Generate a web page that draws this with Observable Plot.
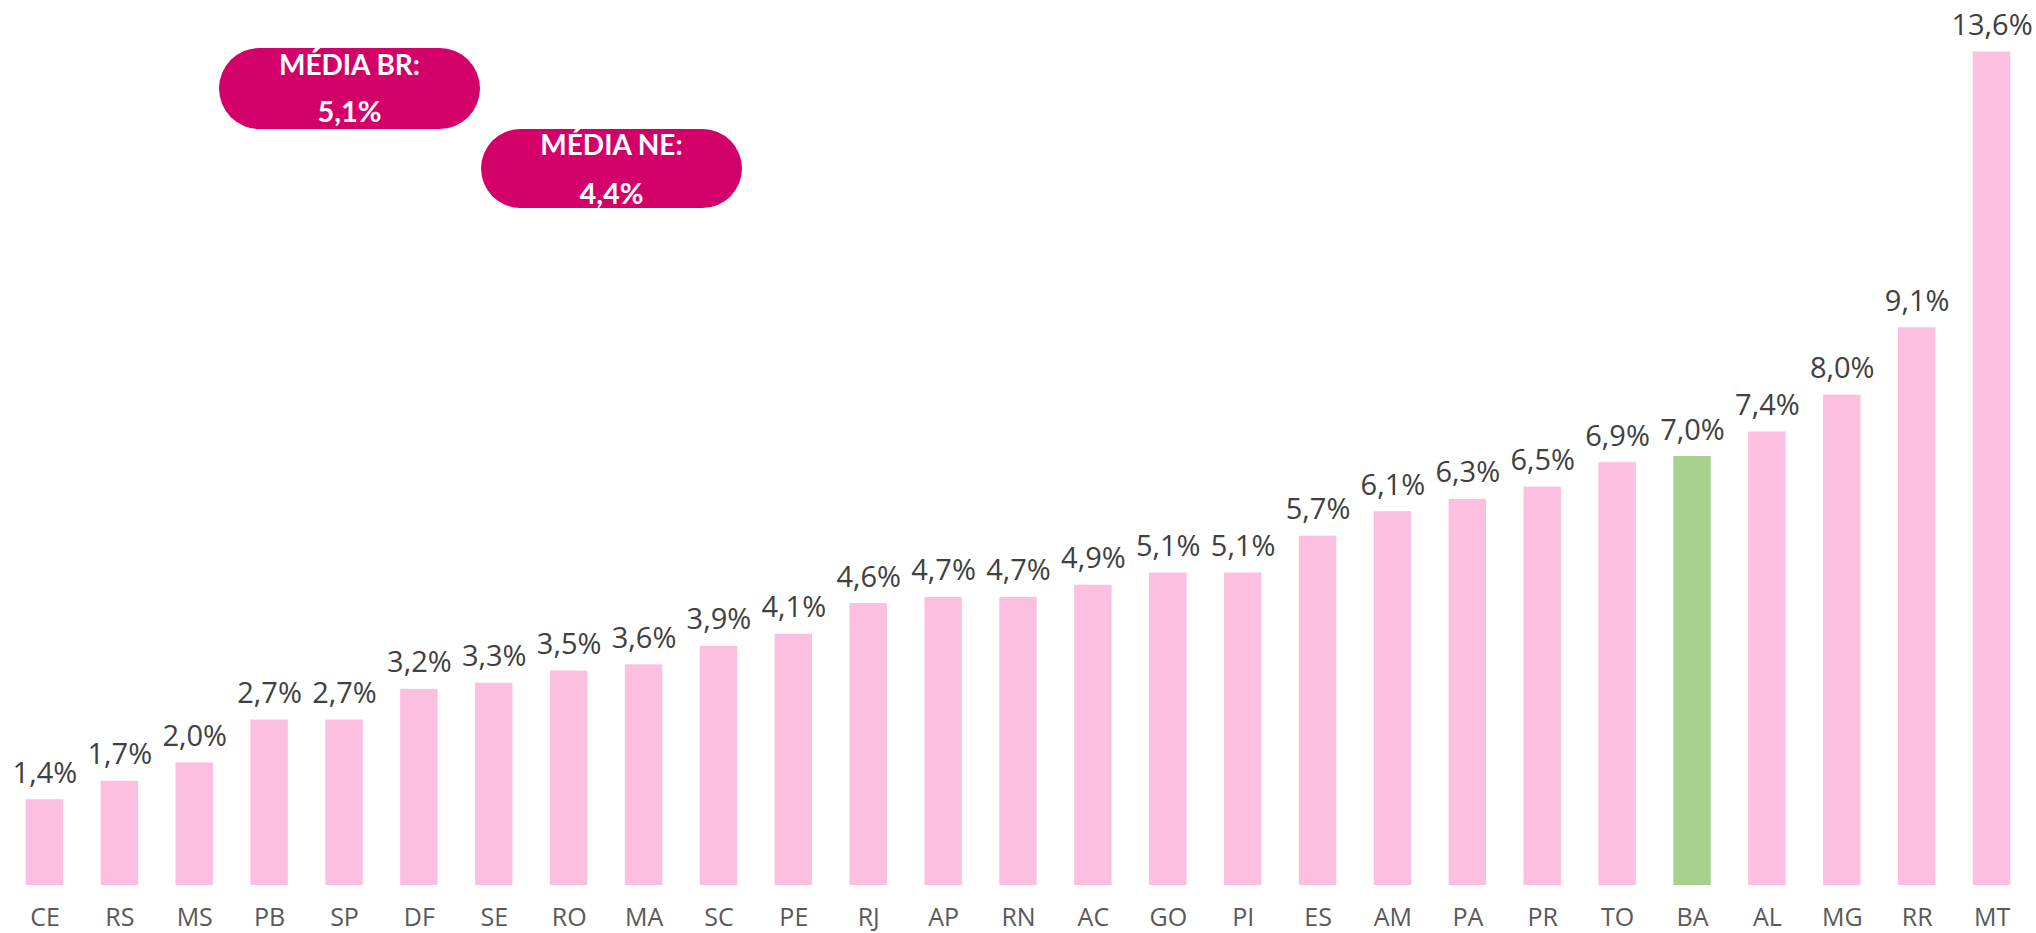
<!DOCTYPE html>
<html>
<head>
<meta charset="utf-8">
<script src="https://cdn.jsdelivr.net/npm/d3@7"></script>
<script src="https://cdn.jsdelivr.net/npm/@observablehq/plot@0.6"></script>
<style>
  html, body { margin: 0; padding: 0; background: #fff; }
  #wrap { position: relative; width: 2036px; height: 933px; font-family: "Open Sans", Lato, sans-serif; }
  .badge { position: absolute; background: #D4006A; color: #fff; font-weight: 700; text-align: center; font-family: Lato, "Open Sans", sans-serif; }
  .badge .l1, .badge .l2 { position: absolute; left: 0; right: 0; line-height: 1; white-space: nowrap; }
  .badge .l1 { font-size: 28px; }
  .badge .l2 { font-size: 29px; }
</style>
</head>
<body>
<div id="wrap"></div>
<script>
const states = ["CE","RS","MS","PB","SP","DF","SE","RO","MA","SC","PE","RJ","AP","RN","AC","GO","PI","ES","AM","PA","PR","TO","BA","AL","MG","RR","MT"];
const values = [1.4,1.7,2.0,2.7,2.7,3.2,3.3,3.5,3.6,3.9,4.1,4.6,4.7,4.7,4.9,5.1,5.1,5.7,6.1,6.3,6.5,6.9,7.0,7.4,8.0,9.1,13.6];
const highlight = "BA";
const avgLabels = ["MÉDIA BR:", "MÉDIA NE:"];
const avgValues = [5.1, 4.4];

const pink = "#FDBFDF";
const green = "#A9D18E";
const fmt = v => v.toFixed(1).replace(".", ",") + "%";

const data = states.map((s, i) => ({state: s, value: values[i]}));

const chart = Plot.plot({
  width: 2036,
  height: 933,
  marginLeft: 7,
  marginRight: 7,
  marginTop: 27,
  marginBottom: 48,
  style: {fontFamily: "'Open Sans', Lato, sans-serif", background: "#fff"},
  x: {domain: states, paddingInner: 0.5, paddingOuter: 0.25, round: false, axis: null},
  y: {domain: [0, 14], axis: null},
  marks: [
    Plot.barY(data, {x: "state", y: "value", fill: d => d.state === highlight ? green : pink}),
    Plot.text(data, {x: "state", y: "value", text: d => fmt(d.value), dy: -17, lineAnchor: "bottom", fontSize: 29, fill: "#404040"}),
    Plot.axisX({tickSize: 0, tickPadding: 23, fontSize: 25, color: "#595959", label: null})
  ]
});

const wrap = document.getElementById("wrap");
wrap.appendChild(chart);

// average badges (layout positions in pixels)
const badgeBoxes = [
  {left: 219, top: 48, width: 261, height: 81, t1: 2.2, t2: 48.3},
  {left: 481, top: 129, width: 261, height: 79, t1: 1.2, t2: 49.3}
];
avgLabels.forEach((lab, i) => {
  const b = badgeBoxes[i];
  const div = document.createElement("div");
  div.className = "badge";
  Object.assign(div.style, {left: b.left + "px", top: b.top + "px", width: b.width + "px", height: b.height + "px", borderRadius: (b.height / 2) + "px"});
  const l1 = document.createElement("div");
  l1.className = "l1"; l1.style.top = b.t1 + "px"; l1.textContent = lab;
  const l2 = document.createElement("div");
  l2.className = "l2"; l2.style.top = b.t2 + "px"; l2.textContent = fmt(avgValues[i]);
  div.appendChild(l1); div.appendChild(l2);
  wrap.appendChild(div);
});
</script>
</body>
</html>
